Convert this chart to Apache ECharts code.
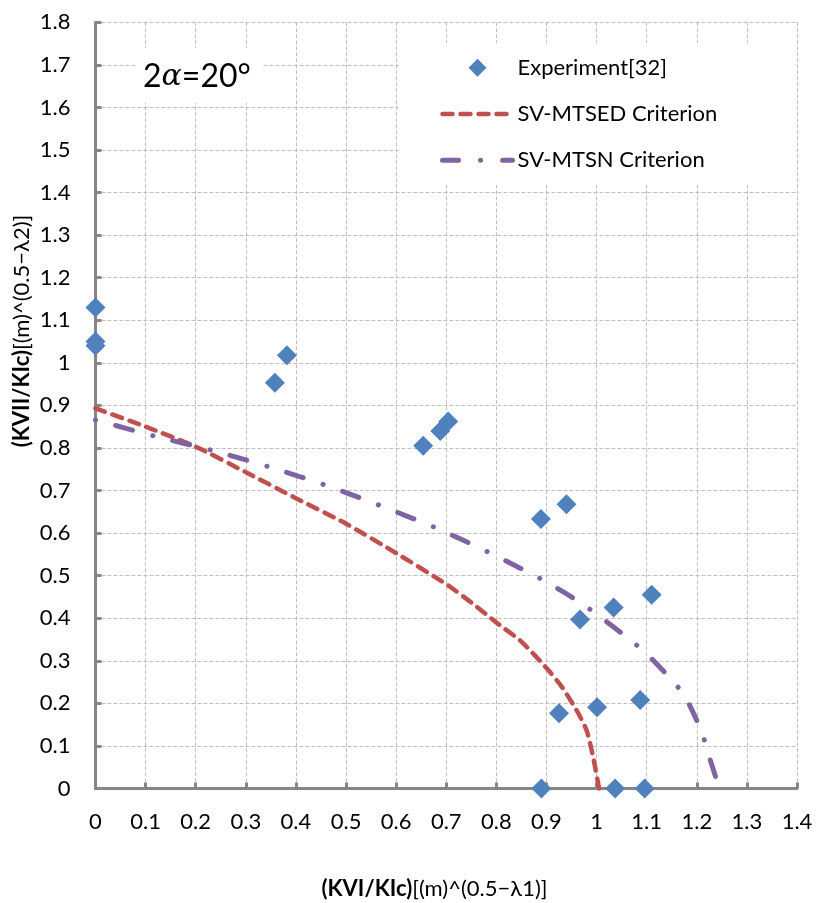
<!DOCTYPE html>
<html>
<head>
<meta charset="utf-8">
<script src="https://cdn.jsdelivr.net/npm/echarts@6/dist/echarts.min.js"></script>
<style>
html,body{margin:0;padding:0;background:#fff;}
#chart{width:818px;height:903px;}
</style>
</head>
<body>
<div id="chart"></div>
<script>
// Experimental data
const expX = [0, 0, 0, 0.358, 0.382, 0.654, 0.688, 0.704, 0.889, 0.940, 0.967, 1.034, 1.110, 0.925, 1.001, 1.087, 0.890, 1.037, 1.096];
const expY = [1.13, 1.05, 1.04, 0.953, 1.018, 0.805, 0.84, 0.862, 0.633, 0.668, 0.397, 0.425, 0.455, 0.177, 0.191, 0.208, 0, 0, 0];
// SV-MTSED criterion curve
const mtsedX = [0, 0.1, 0.2, 0.3, 0.4, 0.5, 0.6, 0.7, 0.75, 0.8, 0.85, 0.9, 0.93, 0.96, 0.98, 0.993, 1.005];
const mtsedY = [0.893, 0.85, 0.803, 0.743, 0.682, 0.622, 0.553, 0.48, 0.437, 0.39, 0.345, 0.283, 0.24, 0.184, 0.137, 0.075, 0];
// SV-MTSN criterion curve
const mtsnX = [0, 0.117, 0.234, 0.348, 0.463, 0.574, 0.686, 0.795, 0.902, 0.97, 1.002, 1.063, 1.097, 1.15, 1.177, 1.21, 1.222, 1.245];
const mtsnY = [0.866, 0.828, 0.794, 0.755, 0.711, 0.662, 0.609, 0.549, 0.484, 0.435, 0.408, 0.353, 0.32, 0.255, 0.216, 0.133, 0.085, 0];
// Axes
const xTicks = [0, 0.1, 0.2, 0.3, 0.4, 0.5, 0.6, 0.7, 0.8, 0.9, 1, 1.1, 1.2, 1.3, 1.4];
const yTicks = [0, 0.1, 0.2, 0.3, 0.4, 0.5, 0.6, 0.7, 0.8, 0.9, 1, 1.1, 1.2, 1.3, 1.4, 1.5, 1.6, 1.7, 1.8];
const seriesNames = ['Experiment[32]', 'SV-MTSED Criterion', 'SV-MTSN Criterion'];
const xTitleBold = '(KVI/KIc)', xTitleRest = '[(m)^(0.5\u2212\u03bb1)]';
const yTitleBold = '(KVII/KIc)', yTitleRest = '[(m)^(0.5\u2212\u03bb2)]';

const zip = (a, b) => a.map((v, i) => [v, b[i]]);
const FONT = 'Lato';
const axisColor = '#868686';
const gridColor = '#BFBFBF';
const hiddenSymbol = {color: 'rgba(0,0,0,0)', borderColor: 'rgba(0,0,0,0)', borderWidth: 0, opacity: 0};

const chart = echarts.init(document.getElementById('chart'), null, {renderer: 'canvas'});
const option = {
  animation: false,
  backgroundColor: '#fff',
  grid: {left: 95.5, right: 21, top: 22.3, bottom: 114.5, containLabel: false},
  xAxis: {
    type: 'value', min: xTicks[0], max: xTicks[xTicks.length - 1], interval: 0.1,
    axisLine: {show: true, onZero: false, lineStyle: {color: axisColor, width: 3}},
    axisTick: {show: true, inside: true, length: 6, lineStyle: {color: axisColor, width: 3}},
    axisLabel: {margin: 22, color: '#000', fontFamily: FONT, fontSize: 22,
      formatter: v => String(+v.toFixed(1))},
    splitLine: {show: true, lineStyle: {color: gridColor, width: 1, type: [4, 2]}}
  },
  yAxis: {
    type: 'value', min: yTicks[0], max: yTicks[yTicks.length - 1], interval: 0.1,
    axisLine: {show: true, onZero: false, lineStyle: {color: axisColor, width: 3}},
    axisTick: {show: true, inside: true, length: 6, lineStyle: {color: axisColor, width: 3}},
    axisLabel: {margin: 25, color: '#000', fontFamily: FONT, fontSize: 22,
      formatter: v => String(+v.toFixed(1))},
    splitLine: {show: true, lineStyle: {color: gridColor, width: 1, type: [4, 2]}}
  },
  legend: {
    orient: 'vertical', left: 435, top: 51.7,
    itemWidth: 70, itemHeight: 18, itemGap: 24.3,
    textStyle: {fontFamily: FONT, fontSize: 22, color: '#000', lineHeight: 22},
    data: [
      {name: seriesNames[0], icon: 'path://M0,-1L1,0L0,1L-1,0Z', itemStyle: {opacity: 1}},
      {name: seriesNames[1], itemStyle: hiddenSymbol,
        lineStyle: {type: [10, 8], width: 4.5, cap: 'round'}},
      {name: seriesNames[2], itemStyle: hiddenSymbol,
        lineStyle: {type: [16, 22, 0.1, 22], width: 5, cap: 'round'}}
    ]
  },
  graphic: [
    {type: 'rect', z: 1, shape: {x: 399, y: 43, width: 396, height: 142}, style: {fill: '#fff'}},
    {type: 'rect', z: 1, shape: {x: 137, y: 48, width: 126, height: 55}, style: {fill: '#fff'}},
    {type: 'text', z: 5, x: 143, y: 77,
      style: {text: '{n|2}{a|\u03b1}{n|=20\u00b0}', verticalAlign: 'middle', align: 'left',
        rich: {
          n: {fontFamily: FONT, fontSize: 32, fill: '#000'},
          a: {fontFamily: 'DejaVu Serif', fontStyle: 'italic', fontSize: 30, fill: '#000'}
        }}},
    {type: 'text', z: 5, x: 434.5, y: 889,
      style: {text: '{b|' + xTitleBold + '}{r|' + xTitleRest + '}', align: 'center', verticalAlign: 'middle',
        rich: {
          b: {fontFamily: FONT, fontSize: 22, fontWeight: 'bold', fill: '#000'},
          r: {fontFamily: FONT, fontSize: 22, fill: '#000'}
        }}},
    {type: 'text', z: 5, x: 22, y: 331, rotation: Math.PI / 2,
      style: {text: '{b|' + yTitleBold + '}{r|' + yTitleRest + '}', align: 'center', verticalAlign: 'middle',
        rich: {
          b: {fontFamily: FONT, fontSize: 22, fontWeight: 'bold', fill: '#000'},
          r: {fontFamily: FONT, fontSize: 22, fill: '#000'}
        }}}
  ],
  series: [
    {
      name: seriesNames[0], type: 'scatter', symbol: 'diamond', symbolSize: 20, clip: false, z: 4,
      itemStyle: {color: '#4F81BD', opacity: 1},
      data: zip(expX, expY)
    },
    {
      name: seriesNames[1], type: 'line', showSymbol: false, symbol: 'none', smooth: 0.2, clip: false, z: 3,
      itemStyle: {color: '#C0504D'},
      lineStyle: {color: '#C0504D', width: 4.5, type: [10, 8], cap: 'round'},
      data: zip(mtsedX, mtsedY)
    },
    {
      name: seriesNames[2], type: 'line', showSymbol: false, symbol: 'none', smooth: 0.2, clip: false, z: 3,
      itemStyle: {color: '#8064A2'},
      lineStyle: {color: '#8064A2', width: 5, type: [0.1, 21, 17, 21], cap: 'round'},
      data: zip(mtsnX, mtsnY)
    }
  ]
};
chart.setOption(option);
</script>
</body>
</html>
